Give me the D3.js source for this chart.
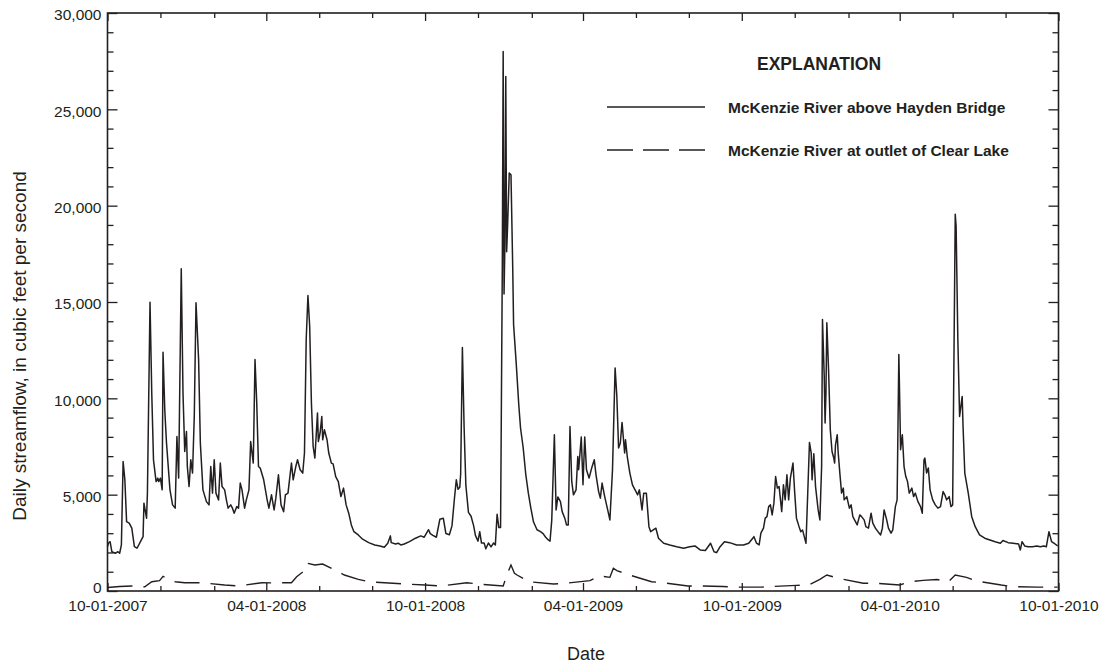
<!DOCTYPE html>
<html>
<head>
<meta charset="utf-8">
<script src="https://cdn.jsdelivr.net/npm/d3@7"></script>
<style>
  body { margin: 0; background: #fff; }
  svg text { fill: #231f20; }
</style>
</head>
<body>
<div id="chart"></div>
<script>
// McKenzie River daily streamflow, water years 2008-2010

let svgWidth = 1104;
let svgHeight = 665;
let plotLeft = 107.5, plotRight = 1058.5, plotTop = 13, plotBottom = 591;

let startDate = "2007-10-01";
let endDate = "2010-10-01";
let yTickValues = d3.range(0, 30001, 1000);
let yLabelValues = [0, 5000, 10000, 15000, 20000, 25000, 30000];
let legendLabels = ["McKenzie River above Hayden Bridge", "McKenzie River at outlet of Clear Lake"];

// McKenzie River above Hayden Bridge, cubic feet per second
let haydenSeries = [
["2007-10-01",2300],["2007-10-02",2480],["2007-10-04",2560],["2007-10-06",2040],["2007-10-10",1960],["2007-10-13",2040],
["2007-10-15",1960],["2007-10-17",2390],["2007-10-19",6720],["2007-10-21",5770],["2007-10-23",3600],["2007-10-26",3520],
["2007-10-29",3260],["2007-11-01",2300],["2007-11-04",2220],["2007-11-08",2560],["2007-11-11",2820],["2007-11-12",4560],
["2007-11-15",3780],["2007-11-16",5080],["2007-11-19",14990],["2007-11-21",10280],["2007-11-23",6810],["2007-11-26",5680],
["2007-11-28",5860],["2007-11-29",5680],["2007-12-01",5860],["2007-12-03",5250],["2007-12-04",12390],["2007-12-06",9410],
["2007-12-08",7680],["2007-12-12",5250],["2007-12-15",4470],["2007-12-18",4300],["2007-12-20",8020],["2007-12-22",5860],
["2007-12-25",16730],["2007-12-27",10280],["2007-12-29",7240],["2007-12-31",8280],["2008-01-01",6460],["2008-01-03",5420],
["2008-01-05",6810],["2008-01-07",6120],["2008-01-09",9060],["2008-01-11",14960],["2008-01-14",12010],["2008-01-16",7680],
["2008-01-19",5250],["2008-01-23",4640],["2008-01-26",4470],["2008-01-28",6460],["2008-01-30",5080],["2008-02-01",6810],
["2008-02-03",5080],["2008-02-06",4730],["2008-02-08",6640],["2008-02-10",5420],["2008-02-13",5250],["2008-02-15",4730],
["2008-02-17",4300],["2008-02-20",4470],["2008-02-22",4300],["2008-02-24",4040],["2008-02-27",4380],["2008-02-29",4300],
["2008-03-02",5600],["2008-03-04",5250],["2008-03-07",4300],["2008-03-09",4730],["2008-03-12",5250],["2008-03-14",7760],
["2008-03-17",6640],["2008-03-19",12010],["2008-03-21",9760],["2008-03-23",6460],["2008-03-25",6380],["2008-03-29",5770],
["2008-04-02",4730],["2008-04-04",4300],["2008-04-07",4990],["2008-04-10",4210],["2008-04-12",4820],["2008-04-15",6030],
["2008-04-18",4470],["2008-04-21",4120],["2008-04-23",4990],["2008-04-26",5080],["2008-04-30",6640],["2008-05-02",5770],
["2008-05-05",6460],["2008-05-07",6810],["2008-05-10",6290],["2008-05-13",6120],["2008-05-15",7160],["2008-05-17",13050],
["2008-05-19",15340],["2008-05-21",13740],["2008-05-23",9760],["2008-05-25",7500],["2008-05-27",6900],["2008-05-30",9240],
["2008-05-31",7760],["2008-06-02",8200],["2008-06-04",9060],["2008-06-05",7850],["2008-06-07",8370],["2008-06-10",7850],
["2008-06-12",7160],["2008-06-15",6640],["2008-06-17",6600],["2008-06-20",5940],["2008-06-23",5680],["2008-06-26",4900],
["2008-06-29",5340],["2008-07-02",4470],["2008-07-05",4040],["2008-07-08",3430],["2008-07-11",3080],["2008-07-16",2910],
["2008-07-21",2690],["2008-07-28",2510],["2008-08-04",2390],["2008-08-10",2340],["2008-08-15",2270],["2008-08-19",2480],
["2008-08-22",2860],["2008-08-23",2510],["2008-08-28",2440],["2008-08-31",2480],["2008-09-03",2390],["2008-09-07",2440],
["2008-09-13",2560],["2008-09-20",2740],["2008-09-26",2860],["2008-09-30",2790],["2008-10-05",3180],["2008-10-07",2980],
["2008-10-10",2890],["2008-10-14",2790],["2008-10-18",3720],["2008-10-22",3780],["2008-10-25",2980],["2008-10-29",2920],
["2008-11-01",3380],["2008-11-04",4880],["2008-11-06",5770],["2008-11-08",5280],["2008-11-10",5380],["2008-11-11",6070],
["2008-11-13",12640],["2008-11-15",8460],["2008-11-17",5480],["2008-11-20",4080],["2008-11-23",3880],["2008-11-26",3380],
["2008-11-28",2890],["2008-12-01",2590],["2008-12-03",3080],["2008-12-05",2490],["2008-12-08",2490],["2008-12-10",2190],
["2008-12-13",2490],["2008-12-16",2290],["2008-12-19",2490],["2008-12-21",2390],["2008-12-23",3980],["2008-12-25",3290],
["2008-12-27",3290],["2008-12-29",16820],["2008-12-30",28000],["2008-12-31",15420],["2009-01-01",18010],["2009-01-02",26700],
["2009-01-03",17610],["2009-01-04",18810],["2009-01-06",21690],["2009-01-08",21600],["2009-01-10",16820],["2009-01-11",13830],
["2009-01-14",11840],["2009-01-17",9650],["2009-01-19",8460],["2009-01-22",7460],["2009-01-25",6070],["2009-01-28",5080],
["2009-01-31",4280],["2009-02-03",3580],["2009-02-07",3180],["2009-02-11",3080],["2009-02-14",2980],["2009-02-17",2790],
["2009-02-20",2650],["2009-02-22",2590],["2009-02-24",3680],["2009-02-27",8110],["2009-03-01",4210],["2009-03-03",4880],
["2009-03-06",4640],["2009-03-08",4120],["2009-03-11",3780],["2009-03-13",3430],["2009-03-15",3430],["2009-03-17",8540],
["2009-03-19",5700],["2009-03-21",4990],["2009-03-24",5250],["2009-03-26",6980],["2009-03-27",6290],["2009-03-30",7990],
["2009-04-01",5510],["2009-04-03",7990],["2009-04-05",6290],["2009-04-08",5860],["2009-04-11",6380],["2009-04-14",6810],
["2009-04-16",6030],["2009-04-19",5160],["2009-04-21",4820],["2009-04-23",5600],["2009-04-26",4900],["2009-04-29",4300],
["2009-05-02",3690],["2009-05-05",6290],["2009-05-08",11580],["2009-05-10",10100],["2009-05-12",7420],["2009-05-14",7680],
["2009-05-16",8750],["2009-05-18",7680],["2009-05-19",7160],["2009-05-20",7850],["2009-05-22",6980],["2009-05-25",6120],
["2009-05-28",5510],["2009-05-31",5250],["2009-06-03",4990],["2009-06-05",5250],["2009-06-08",4210],["2009-06-10",5080],
["2009-06-13",5080],["2009-06-16",3340],["2009-06-18",3080],["2009-06-21",3170],["2009-06-24",3260],["2009-06-27",2740],
["2009-07-03",2480],["2009-07-10",2390],["2009-07-18",2300],["2009-07-26",2220],["2009-08-02",2300],["2009-08-08",2340],
["2009-08-14",2130],["2009-08-20",2100],["2009-08-26",2480],["2009-08-30",2040],["2009-09-02",1990],["2009-09-06",2300],
["2009-09-11",2560],["2009-09-17",2510],["2009-09-25",2390],["2009-10-03",2390],["2009-10-09",2480],["2009-10-15",2820],
["2009-10-18",2480],["2009-10-21",2390],["2009-10-23",3000],["2009-10-26",3260],["2009-10-28",3780],["2009-10-30",3860],
["2009-11-01",4380],["2009-11-03",4470],["2009-11-05",3950],["2009-11-07",4560],["2009-11-09",5940],["2009-11-11",5340],
["2009-11-13",5420],["2009-11-16",4120],["2009-11-18",5510],["2009-11-20",4730],["2009-11-22",6030],["2009-11-24",4730],
["2009-11-26",5860],["2009-11-29",6640],["2009-12-01",5080],["2009-12-03",3780],["2009-12-06",3340],["2009-12-08",3080],
["2009-12-10",3170],["2009-12-12",2820],["2009-12-14",2480],["2009-12-16",5080],["2009-12-18",7710],["2009-12-20",7160],
["2009-12-21",5770],["2009-12-23",7120],["2009-12-25",5420],["2009-12-28",4210],["2009-12-30",3690],["2010-01-01",6460],
["2010-01-02",14090],["2010-01-04",11140],["2010-01-05",8720],["2010-01-06",10280],["2010-01-07",13920],["2010-01-09",11490],
["2010-01-11",8370],["2010-01-13",7240],["2010-01-15",6900],["2010-01-16",6640],["2010-01-17",7590],["2010-01-19",8110],
["2010-01-20",7240],["2010-01-22",6120],["2010-01-24",5080],["2010-01-26",5340],["2010-01-27",4730],["2010-01-30",4900],
["2010-02-02",4300],["2010-02-04",4470],["2010-02-06",3860],["2010-02-09",3600],["2010-02-11",3430],["2010-02-14",3950],
["2010-02-16",3860],["2010-02-19",3690],["2010-02-21",3340],["2010-02-24",3260],["2010-02-27",4040],["2010-03-01",3520],
["2010-03-04",3260],["2010-03-07",3080],["2010-03-10",2910],["2010-03-12",3260],["2010-03-14",4210],["2010-03-17",3690],
["2010-03-19",3260],["2010-03-22",3000],["2010-03-24",3170],["2010-03-27",4380],["2010-03-29",4730],["2010-03-31",12270],
["2010-04-01",9930],["2010-04-02",7330],["2010-04-04",8110],["2010-04-06",6460],["2010-04-08",5940],["2010-04-10",5680],
["2010-04-12",5080],["2010-04-15",5340],["2010-04-17",4900],["2010-04-19",5080],["2010-04-22",4640],["2010-04-25",4380],
["2010-04-27",4040],["2010-04-29",6810],["2010-04-30",6900],["2010-05-02",6120],["2010-05-04",6380],["2010-05-06",5250],
["2010-05-09",4730],["2010-05-12",4470],["2010-05-15",4300],["2010-05-18",4380],["2010-05-21",5160],["2010-05-23",4990],
["2010-05-25",4730],["2010-05-28",4900],["2010-05-30",4380],["2010-06-01",4470],["2010-06-02",9580],["2010-06-04",19550],
["2010-06-05",18940],["2010-06-07",13050],["2010-06-09",9060],["2010-06-12",10100],["2010-06-13",8540],["2010-06-15",6120],
["2010-06-19",5080],["2010-06-23",3860],["2010-06-27",3340],["2010-07-02",2910],["2010-07-08",2740],["2010-07-14",2650],
["2010-07-20",2560],["2010-07-26",2480],["2010-07-29",2620],["2010-08-04",2510],["2010-08-10",2480],["2010-08-16",2440],
["2010-08-18",2130],["2010-08-20",2560],["2010-08-23",2340],["2010-08-27",2300],["2010-09-01",2300],["2010-09-06",2340],
["2010-09-10",2300],["2010-09-14",2340],["2010-09-17",2300],["2010-09-20",3080],["2010-09-23",2560],["2010-09-27",2440],
["2010-09-30",2340]
];

// McKenzie River at outlet of Clear Lake, cubic feet per second
let clearLakeSeries = [
["2007-10-01",180],["2007-10-15",230],["2007-10-29",260],["2007-11-13",220],["2007-11-21",480],["2007-11-30",540],
["2007-12-04",760],["2007-12-08",660],["2007-12-18",480],["2007-12-29",430],["2008-01-06",430],["2008-01-18",430],
["2008-02-13",310],["2008-02-29",260],["2008-03-27",430],["2008-04-10",420],["2008-04-30",430],["2008-05-06",740],
["2008-05-16",1090],["2008-05-18",1440],["2008-05-27",1350],["2008-06-05",1400],["2008-06-17",1130],["2008-06-30",830],
["2008-07-16",600],["2008-07-29",480],["2008-08-25",400],["2008-09-10",360],["2008-10-01",310],["2008-10-20",260],
["2008-11-18",430],["2008-12-01",360],["2008-12-30",260],["2009-01-04",920],["2009-01-08",1350],["2009-01-12",920],
["2009-01-15",830],["2009-01-29",480],["2009-02-26",360],["2009-03-11",400],["2009-04-09",540],["2009-04-20",780],
["2009-05-02",710],["2009-05-06",1180],["2009-05-10",1060],["2009-05-21",880],["2009-06-19",480],["2009-07-02",430],
["2009-07-31",260],["2009-08-14",260],["2009-09-09",230],["2009-09-25",200],["2009-10-24",200],["2009-11-04",230],
["2009-12-03",290],["2009-12-17",310],["2009-12-30",600],["2010-01-07",830],["2010-01-20",660],["2010-02-18",400],
["2010-03-04",400],["2010-04-01",310],["2010-04-13",480],["2010-04-28",550],["2010-05-14",600],["2010-05-27",480],
["2010-06-04",830],["2010-06-17",710],["2010-06-28",520],["2010-07-27",310],["2010-08-09",230],["2010-09-07",200],
["2010-09-30",200]
];

let parseDate = d3.utcParse("%Y-%m-%d");
let ink = "#231f20";
let bodyFont = "'Liberation Sans', Arial, sans-serif";

function toPoints(series){
  return series.map(function(d){
    return {date: parseDate(d[0]), flow: d[1]};
  });
}

let haydenData = toPoints(haydenSeries);
let clearLakeData = toPoints(clearLakeSeries);

let viz = d3.select("#chart")
  .append("svg")
    .attr("width", svgWidth)
    .attr("height", svgHeight)
    .style("font-family", bodyFont)
    ;

let xScale = d3.scaleUtc()
  .domain([parseDate(startDate), parseDate(endDate)])
  .range([plotLeft, plotRight]);

let yScale = d3.scaleLinear()
  .domain([0, 30000])
  .range([plotBottom, plotTop]);

// ticks every two months starting at 10-01, longer ones on 10-01 and 04-01
let monthTicks = d3.utcMonth.range(parseDate(startDate), d3.utcDay.offset(parseDate(endDate), 1), 2);
function isMajorMonth(d){
  return d.getUTCMonth() == 9 || d.getUTCMonth() == 3;
}
let dateLabel = d3.utcFormat("%m-%d-%Y");

// bottom axis (ticks point into the plot)
let bottomAxis = d3.axisBottom(xScale)
  .tickValues(monthTicks)
  .tickSize(-5)
  .tickSizeOuter(0)
  .tickPadding(8.5)
  .tickFormat(function(d){ return isMajorMonth(d) ? dateLabel(d) : ""; });

let bottomGroup = viz.append("g")
  .attr("transform", "translate(0," + plotBottom + ")")
  .call(bottomAxis);
bottomGroup.selectAll(".tick line").attr("y2", function(d){ return isMajorMonth(d) ? -8 : -5; });

let topAxis = d3.axisTop(xScale)
  .tickValues(monthTicks)
  .tickSize(-5)
  .tickSizeOuter(0)
  .tickFormat("");
let topGroup = viz.append("g")
  .attr("transform", "translate(0," + plotTop + ")")
  .call(topAxis);
topGroup.selectAll(".tick line").attr("y2", function(d){ return isMajorMonth(d) ? 8 : 5; });

let commaFormat = d3.format(",");
let leftAxis = d3.axisLeft(yScale)
  .tickValues(yTickValues)
  .tickSize(-6)
  .tickSizeOuter(0)
  .tickPadding(6)
  .tickFormat(function(d){ return yLabelValues.includes(d) ? commaFormat(d) : ""; });
let leftGroup = viz.append("g")
  .attr("transform", "translate(" + plotLeft + ",0)")
  .call(leftAxis);
leftGroup.selectAll(".tick line").attr("x2", function(d){ return d % 5000 == 0 ? 10 : 6; });
// zero label sits a little higher so it clears the first date label
leftGroup.selectAll(".tick text").attr("dy", function(d){ return d == 0 ? "0.12em" : "0.45em"; });

let rightAxis = d3.axisRight(yScale)
  .tickValues(yTickValues)
  .tickSize(-6)
  .tickSizeOuter(0)
  .tickFormat("");
let rightGroup = viz.append("g")
  .attr("transform", "translate(" + plotRight + ",0)")
  .call(rightAxis);
rightGroup.selectAll(".tick line").attr("x2", function(d){ return d % 5000 == 0 ? -10 : -6; });

viz.selectAll(".domain").remove();
viz.selectAll(".tick line").attr("stroke", ink).attr("stroke-width", 1.3);
viz.selectAll(".tick text")
  .attr("font-family", bodyFont)
  .attr("font-size", 15.5)
  .attr("fill", ink);

// frame
viz.append("rect")
  .attr("x", plotLeft)
  .attr("y", plotTop)
  .attr("width", plotRight - plotLeft)
  .attr("height", plotBottom - plotTop)
  .attr("fill", "none")
  .attr("stroke", ink)
  .attr("stroke-width", 1.6);

// the two streamflow records
let lineMaker = d3.line()
  .x(function(d){ return xScale(d.date); })
  .y(function(d){ return yScale(d.flow); });

viz.append("path")
  .datum(clearLakeData)
  .attr("d", lineMaker)
  .attr("fill", "none")
  .attr("stroke", ink)
  .attr("stroke-width", 1.4)
  .attr("stroke-dasharray", "25,11");

viz.append("path")
  .datum(haydenData)
  .attr("d", lineMaker)
  .attr("fill", "none")
  .attr("stroke", ink)
  .attr("stroke-width", 1.5)
  .attr("stroke-linejoin", "round");

// axis titles
viz.append("text")
  .attr("transform", "translate(26,346) rotate(-90)")
  .attr("text-anchor", "middle")
  .attr("font-size", 19)
  .text("Daily streamflow, in cubic feet per second");

viz.append("text")
  .attr("x", 586)
  .attr("y", 660)
  .attr("text-anchor", "middle")
  .attr("font-size", 18)
  .text("Date");

// explanation (legend)
let legend = viz.append("g");
legend.append("text")
  .attr("x", 757)
  .attr("y", 70)
  .attr("font-weight", "bold")
  .attr("font-size", 17.5)
  .text("EXPLANATION");

let legendRows = legend.selectAll(".legendRow")
  .data(legendLabels)
  .enter()
  .append("g")
  .attr("class", "legendRow")
  .attr("transform", function(d, i){ return "translate(0," + (107 + i * 43) + ")"; });

legendRows.append("line")
  .attr("x1", 607)
  .attr("x2", 705)
  .attr("stroke", ink)
  .attr("stroke-width", 1.4)
  .attr("stroke-dasharray", function(d, i){ return i == 0 ? null : "26,10"; });

legendRows.append("text")
  .attr("x", 728)
  .attr("y", 5.5)
  .attr("font-weight", "bold")
  .attr("font-size", 15.5)
  .text(function(d){ return d; });
</script>
</body>
</html>
